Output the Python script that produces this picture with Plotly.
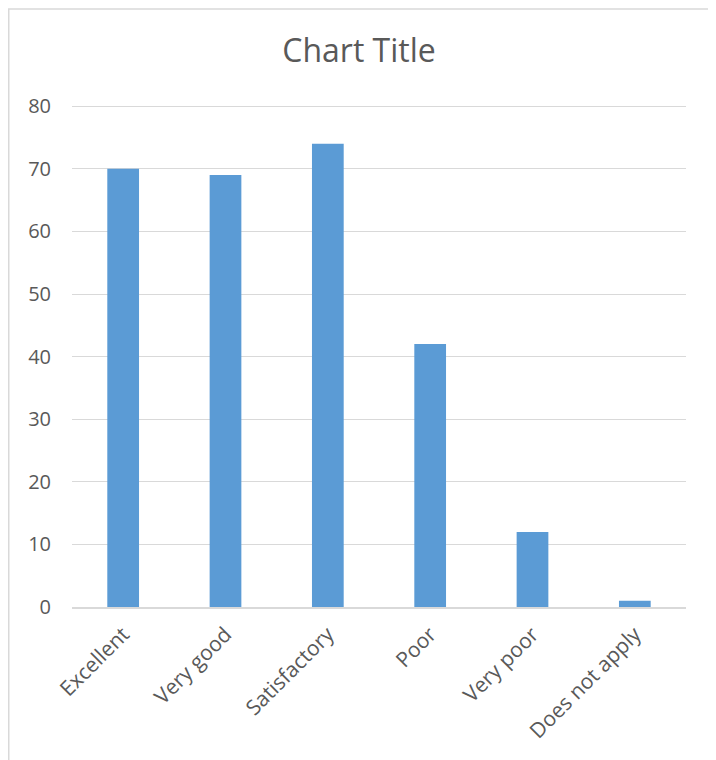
import plotly.graph_objects as go

categories = ["Excellent", "Very good", "Satisfactory", "Poor", "Very poor", "Does not apply"]
values = [70, 69, 74, 42, 12, 1]
y_ticks = [0, 10, 20, 30, 40, 50, 60, 70, 80]

# page body adds an 8px offset; the figure is sized to fit the remaining window
OFF = 8
W, H = 716 - OFF, 760 - OFF
Y_TOP = 81  # small headroom so the 80 gridline is drawn
y0_px, y80_px = 607 - OFF, 106 - OFF
top_px = y0_px - (y0_px - y80_px) * Y_TOP / 80
L, R, T, B = 72 - OFF, W - (686 - OFF), top_px, H - y0_px
pw, ph = W - L - R, H - T - B

def px_to_paper_x(px):
    return (px - L) / pw

def px_to_paper_y(py):
    return (H - B - py) / ph

fig = go.Figure(go.Bar(x=categories, y=values, marker=dict(color="#5b9bd5", line=dict(width=0))))

fig.update_layout(
    width=W, height=H,
    margin=dict(l=L, r=R, t=T, b=B),
    paper_bgcolor="white", plot_bgcolor="white",
    bargap=0.69,
    showlegend=False,
    title=dict(text="Chart Title", x=px_to_paper_x(359 - OFF), xref="paper", xanchor="center",
               y=1 - (51 - OFF) / H, yanchor="middle", yref="container",
               font=dict(family="Open Sans", size=32, color="#595959")),
    font=dict(family="Open Sans", color="#595959"),
    shapes=[dict(type="rect", xref="paper", yref="paper",
                 x0=px_to_paper_x(0.75), x1=px_to_paper_x(705),
                 y0=px_to_paper_y(H + 5), y1=px_to_paper_y(0.75),
                 line=dict(color="#d9d9d9", width=1.5), fillcolor="rgba(0,0,0,0)", layer="below")],
)
fig.update_xaxes(tickangle=-45, tickfont=dict(size=21, color="#595959"),
                 showgrid=False, showline=True, linecolor="#d9d9d9", linewidth=1.5,
                 ticks="", zeroline=False, ticklabelstandoff=5)
fig.update_yaxes(range=[0, Y_TOP], tickvals=y_ticks, tickfont=dict(size=20, color="#595959"),
                 showgrid=True, gridcolor="#d9d9d9", gridwidth=1.3, zeroline=False,
                 showline=False, ticks="", ticklabelstandoff=20)

fig.write_html("out.html")
